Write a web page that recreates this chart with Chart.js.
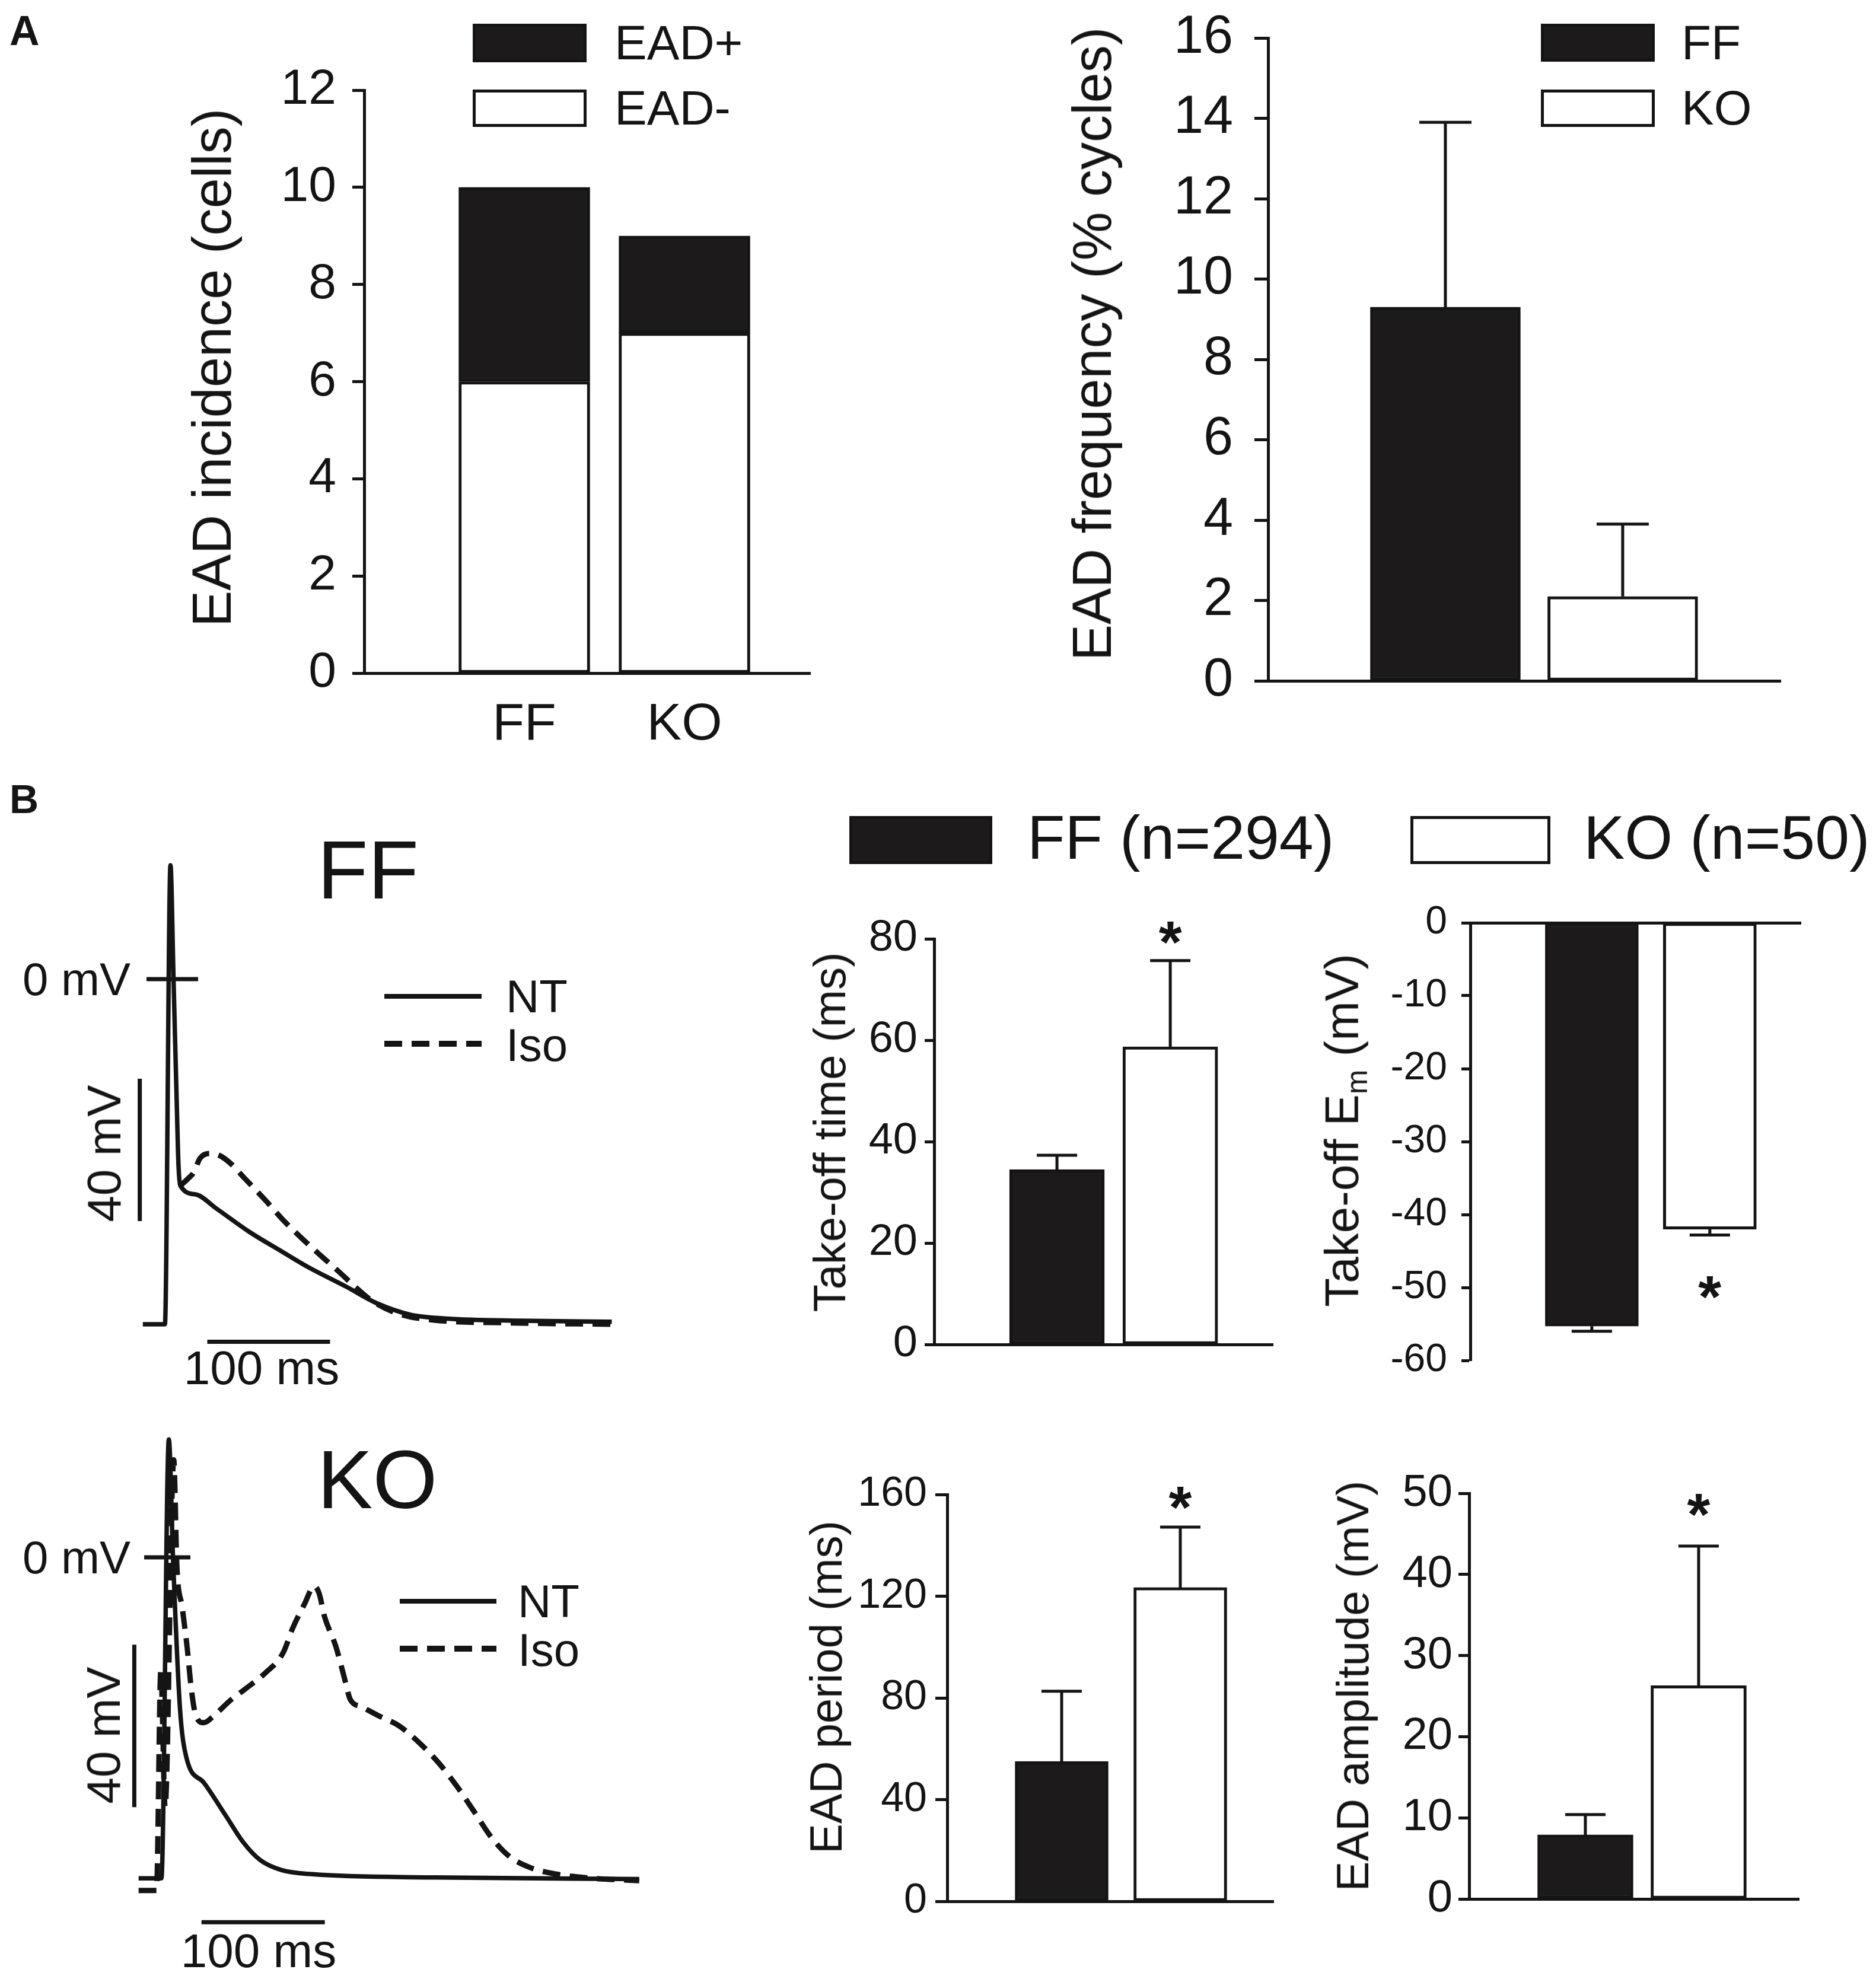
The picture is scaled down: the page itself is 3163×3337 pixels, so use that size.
<!DOCTYPE html>
<html lang="en">
<head>
<meta charset="utf-8">
<title>EAD incidence, frequency and take-off properties</title>
<script src="https://cdn.jsdelivr.net/npm/chart.js@4.4.1/dist/chart.umd.min.js"></script>
<style>
  html, body { margin: 0; padding: 0; background: #fff; }
  body { position: relative; width: 3163px; height: 3337px; overflow: hidden;
         font-family: "Liberation Sans", Arial, Helvetica, sans-serif; color: #141414; }
  canvas { position: absolute; }
  .t { position: absolute; white-space: nowrap; line-height: 1; }
  .sw { position: absolute; box-sizing: border-box; border: 5px solid #141414; }
  .ln { position: absolute; background: #141414; }
  .dash { position: absolute; background: repeating-linear-gradient(to right, #141414 0 30px, transparent 30px 46px); }
  sub { font-size: 0.62em; vertical-align: -0.3em; }
</style>
</head>
<body>
<script>
// ---------- data ----------
const groups = ["FF", "KO"];

// A: incidence (cells), stacked
const incidenceTicks = [0, 2, 4, 6, 8, 10, 12];
const eadNegCells = [6, 7];
const eadPosCells = [4, 2];

// A: EAD frequency (% cycles), mean + SEM
const frequencyTicks = [0, 2, 4, 6, 8, 10, 12, 14, 16];
const frequencyMean = [9.3, 2.1];
const frequencySem = [4.6, 1.8];

// B: bar summaries, mean + SEM
const takeoffTimeTicks = [0, 20, 40, 60, 80];
const takeoffTimeMean = [34.5, 58.7];
const takeoffTimeSem = [2.8, 17.0];

const takeoffEmTicks = [-60, -50, -40, -30, -20, -10, 0];
const takeoffEmMean = [-55.3, -42.0];
const takeoffEmSem = [0.7, 0.8];

const periodTicks = [0, 40, 80, 120, 160];
const periodMean = [55.0, 123.4];
const periodSem = [27.6, 23.8];

const amplitudeTicks = [0, 10, 20, 30, 40, 50];
const amplitudeMean = [7.9, 26.3];
const amplitudeSem = [2.5, 17.2];

const significant = [false, true];

// B: action potentials, [time (ms), Em (mV)]
const ffNT = [[-18, -97], [0, -97], [4.5, 32], [7, 0], [10, -40], [11, -52], [12.5, -58],
  [25, -60.5], [42, -64.5], [68.6, -71], [95, -76.5], [117, -81], [148, -86.5], [172, -91],
  [200, -94.3], [230, -95.4], [290, -96], [364, -96.3]];
const ffIso = [[12.5, -58], [14, -57.6], [19, -56], [23.5, -54.3], [28.5, -50.4], [36, -49],
  [44, -49.5], [52.5, -51.5], [65, -56], [81.5, -62], [96, -67.6], [112, -73], [126.6, -77.6],
  [141, -82], [155, -86.5], [169, -90.5], [190, -94], [218, -95.8], [280, -96.6], [364, -97]];
const koNT = [[-21, -79], [-2.5, -79], [3.5, 29], [7, -1], [12.5, -37], [17.5, -49], [32, -55.5],
  [49.5, -63.5], [63.5, -70], [77.5, -74.5], [95, -77], [120, -78], [219, -78.8], [385, -79.2]];
const koIso = [[-21, -82], [-6.5, -82], [-3, -28], [0.5, -61.5], [7.5, 24], [10, -2],
  [14.4, -12.4], [18.3, -22], [21.6, -32], [25, -38.5], [31.8, -40.7], [40, -39], [53, -35.3],
  [65.5, -32.4], [81.6, -28.5], [96, -23.6], [104, -17.4], [113.5, -11.5], [121.4, -7.1],
  [125.5, -9], [129.6, -14.4], [139, -22], [147, -31], [150.5, -34.9], [160, -36.8],
  [173, -38.9], [190.8, -41.6], [208.5, -46.2], [222.6, -50.7], [236.7, -56.2],
  [250.9, -62.5], [265, -68.9], [279.2, -73.5], [296.8, -76.4], [318, -78], [342.8, -78.9],
  [385, -79.6]];

const scaleBarMv = 40;
const scaleBarMs = 100;

// ---------- drawing ----------
const INK = "#141414";
const DARK = "#1c1a1b";
const SANS = '"Liberation Sans", Arial, sans-serif';

Chart.defaults.font.family = SANS;
Chart.defaults.color = INK;
Chart.defaults.animation = false;
Chart.defaults.plugins.legend.display = false;
Chart.defaults.plugins.tooltip.enabled = false;

function canvasAt(left, top, width, height) {
  const c = document.createElement("canvas");
  c.width = Math.round(width);
  c.height = Math.round(height);
  c.style.left = Math.round(left) + "px";
  c.style.top = Math.round(top) + "px";
  c.style.width = c.width + "px";
  c.style.height = c.height + "px";
  document.body.appendChild(c);
  return c.getContext("2d");
}

function label(html, x, y, size, o = {}) {
  const el = document.createElement("div");
  el.className = "t";
  el.innerHTML = html;
  el.style.left = x + "px";
  el.style.top = y + "px";
  el.style.fontSize = size + "px";
  if (o.bold) el.style.fontWeight = "bold";
  const ax = o.anchor === "start" ? "0" : o.anchor === "end" ? "-100%" : "-50%";
  el.style.transform = `translate(${ax}, -50%)` + (o.rotate ? " rotate(-90deg)" : "");
  document.body.appendChild(el);
}

function swatch(x, y, w, h, fill) {
  const el = document.createElement("div");
  el.className = "sw";
  Object.assign(el.style, { left: x + "px", top: y + "px", width: w + "px", height: h + "px", background: fill });
  document.body.appendChild(el);
}

function legendLine(x1, x2, y, dashed) {
  const el = document.createElement("div");
  const h = dashed ? 10 : 8;
  el.className = dashed ? "dash" : "ln";
  Object.assign(el.style, { left: x1 + "px", top: (y - h / 2) + "px", width: (x2 - x1) + "px", height: h + "px" });
  document.body.appendChild(el);
}

// mean + SEM whiskers and significance stars
const errorBars = {
  id: "errorBars",
  afterDatasetsDraw(chart, _args, o) {
    if (!o || !o.sem) return;
    const { ctx } = chart;
    const y = chart.scales.y;
    const bars = chart.getDatasetMeta(0).data;
    const values = chart.data.datasets[0].data;
    ctx.save();
    ctx.strokeStyle = INK;
    ctx.fillStyle = INK;
    ctx.lineWidth = 5;
    bars.forEach((bar, i) => {
      const v = values[i].y;
      const dir = v < 0 ? -1 : 1;
      const y0 = y.getPixelForValue(v);
      const y1 = y.getPixelForValue(v + dir * o.sem[i]);
      ctx.beginPath();
      ctx.moveTo(bar.x, y0);
      ctx.lineTo(bar.x, y1);
      ctx.moveTo(bar.x - o.cap / 2, y1);
      ctx.lineTo(bar.x + o.cap / 2, y1);
      ctx.stroke();
      if (o.marks && o.marks[i]) {
        const cy = y1 - dir * o.markGap;
        ctx.font = `bold ${o.markSize}px ${SANS}`;
        ctx.textAlign = "center";
        ctx.textBaseline = "alphabetic";
        ctx.fillText("*", bar.x, cy + 0.58 * o.markSize);
      }
    });
    ctx.restore();
  }
};

function meanBars(values, thickness) {
  return [{
    data: values.map((v, i) => ({ x: i + 1, y: v })),
    backgroundColor: [DARK, "#fff"],
    borderColor: INK,
    borderWidth: 5,
    borderSkipped: false,
    barThickness: thickness
  }];
}

// p.axis/top/bottom/right give the pixel frame of the plot area
function barPanel(p) {
  const yW = 260, padT = p.padT ?? 110, padB = p.padB ?? 80, padR = 10, xH = p.xH ?? 0;
  const left = p.axis - yW;
  const top = p.top - padT;
  const width = p.right - left + padR;
  const height = p.bottom - top + xH + padB;
  const ticks = p.ticks;
  new Chart(canvasAt(left, top, width, height), {
    type: "bar",
    data: { datasets: p.datasets },
    options: {
      responsive: false,
      devicePixelRatio: 1,
      layout: { padding: { left: 0, top: padT, right: padR, bottom: padB } },
      scales: {
        x: {
          type: "linear",
          position: p.down ? "top" : "bottom",
          offset: false,
          min: p.xMin, max: p.xMax,
          stacked: true,
          afterFit: s => { s.height = xH; },
          afterBuildTicks: s => { s.ticks = groups.map((g, i) => ({ value: i + 1 })); },
          grid: { display: false, offset: false },
          border: { display: true, color: INK, width: 5 },
          ticks: {
            display: !!p.xFont,
            font: { size: p.xFont || 10 },
            padding: p.xPad || 0,
            color: INK,
            callback: v => groups[v - 1]
          }
        },
        y: {
          type: "linear",
          min: ticks[0], max: ticks[ticks.length - 1],
          stacked: true,
          afterFit: s => { s.width = yW; },
          afterBuildTicks: s => { s.ticks = ticks.map(v => ({ value: v })); },
          grid: { drawOnChartArea: false, tickLength: p.tickLen, tickWidth: 5, tickColor: INK },
          border: { display: true, color: INK, width: 5 },
          ticks: { font: p.yFont, padding: p.yPad, color: INK }
        }
      },
      plugins: { errorBars: p.err || false }
    },
    plugins: [errorBars]
  });
}

function tracePanel(p) {
  const left = p.t0 + p.tMin * p.ms;
  const top = p.zero - p.vMax * p.mv;
  const width = (p.tMax - p.tMin) * p.ms;
  const height = (p.vMax - p.vMin) * p.mv;
  const pts = arr => arr.map(([t, v]) => ({ x: t, y: v }));
  const trace = (data, dashed) => ({
    data: pts(data),
    borderColor: INK,
    borderWidth: dashed ? 9 : 7.5,
    borderDash: dashed ? [30, 16] : [],
    cubicInterpolationMode: "monotone",
    pointRadius: 0,
    clip: false
  });
  const bar = data => ({ data, borderColor: INK, borderWidth: 7, pointRadius: 0, tension: 0, clip: false });
  const s = p.bars;
  new Chart(canvasAt(left, top, width, height), {
    type: "line",
    data: {
      datasets: [
        trace(p.iso, true),
        trace(p.nt, false),
        bar([{ x: s.zeroFrom, y: 0 }, { x: s.zeroTo, y: 0 }]),
        bar([{ x: s.mvAt, y: s.mvTop }, { x: s.mvAt, y: s.mvTop - scaleBarMv }]),
        bar([{ x: s.msFrom, y: s.msAt }, { x: s.msFrom + scaleBarMs, y: s.msAt }])
      ]
    },
    options: {
      responsive: false,
      devicePixelRatio: 1,
      layout: { padding: 0 },
      scales: {
        x: { type: "linear", display: false, min: p.tMin, max: p.tMax },
        y: { type: "linear", display: false, min: p.vMin, max: p.vMax }
      }
    }
  });
}

// ---------- panel A ----------
label("A", 16, 52, 70, { anchor: "start", bold: true });

barPanel({
  axis: 614, top: 152, bottom: 1135, right: 1366,
  ticks: incidenceTicks, xMin: 0, xMax: 2.785,
  tickLen: 20, yFont: { size: 84 }, yPad: 27,
  xFont: 88, xPad: 27, xH: 130, padB: 0,
  datasets: [
    { label: "EAD-", data: eadNegCells.map((v, i) => ({ x: i + 1, y: v })), backgroundColor: "#fff",
      borderColor: INK, borderWidth: 5, borderSkipped: false, barThickness: 221 },
    { label: "EAD+", data: eadPosCells.map((v, i) => ({ x: i + 1, y: v })), backgroundColor: DARK,
      borderColor: INK, borderWidth: 5, borderSkipped: false, barThickness: 221 }
  ]
});
label("EAD incidence (cells)", 357, 620, 92, { rotate: true });
swatch(797, 40, 192, 65, DARK);
swatch(797, 151, 192, 63, "#fff");
label("EAD+", 1036, 72, 82, { anchor: "start" });
label("EAD-", 1036, 182, 82, { anchor: "start" });

barPanel({
  axis: 2138, top: 64, bottom: 1158, right: 3002,
  ticks: frequencyTicks, xMin: 0, xMax: 2.89,
  tickLen: 23, yFont: { size: 90 }, yPad: 36,
  datasets: meanBars(frequencyMean, 253),
  err: { sem: frequencySem, cap: 88 }
});
label("EAD frequency (% cycles)", 1841, 580, 92, { rotate: true });
swatch(2598, 40, 192, 64, DARK);
swatch(2598, 151, 192, 63, "#fff");
label("FF", 2835, 72, 82, { anchor: "start" });
label("KO", 2835, 182, 82, { anchor: "start" });

// ---------- panel B ----------
label("B", 16, 1347, 68, { anchor: "start", bold: true });

swatch(1432, 1376, 241, 81, DARK);
label("FF (n=294)", 1732, 1412, 104, { anchor: "start" });
swatch(2378, 1376, 236, 81, "#fff");
label("KO (n=50)", 2670, 1412, 104, { anchor: "start" });

// FF action potentials
tracePanel({
  t0: 278, zero: 1651, ms: 2.07, mv: 6.0, tMin: -30, tMax: 400, vMin: -110, vMax: 40,
  nt: ffNT, iso: ffIso,
  bars: { zeroFrom: -15, zeroTo: 27, mvAt: -20.5, mvTop: -28, msFrom: 34.5, msAt: -101.9 }
});
label("FF", 535, 1467, 140, { anchor: "start" });
label("0 mV", 220, 1651, 78, { anchor: "end" });
label("40 mV", 176, 1945, 80, { rotate: true });
label("100 ms", 441, 2307, 80);
legendLine(648, 812, 1680, false);
legendLine(648, 812, 1760, true);
label("NT", 853, 1680, 78, { anchor: "start" });
label("Iso", 853, 1762, 78, { anchor: "start" });

// KO action potentials
tracePanel({
  t0: 277, zero: 2626, ms: 2.08, mv: 6.85, tMin: -30, tMax: 400, vMin: -100, vMax: 40,
  nt: koNT, iso: koIso,
  bars: { zeroFrom: -16.5, zeroTo: 21, mvAt: -24.5, mvTop: -21.5, msFrom: 30, msAt: -89.8 }
});
label("KO", 535, 2495, 140, { anchor: "start" });
label("0 mV", 220, 2626, 78, { anchor: "end" });
label("40 mV", 175, 2926, 80, { rotate: true });
label("100 ms", 436, 3290, 80);
legendLine(674, 837, 2700, false);
legendLine(674, 837, 2780, true);
label("NT", 873, 2700, 78, { anchor: "start" });
label("Iso", 873, 2782, 78, { anchor: "start" });

// summaries
barPanel({
  axis: 1575, top: 1583, bottom: 2267, right: 2146,
  ticks: takeoffTimeTicks, xMin: -0.084, xMax: 2.905,
  tickLen: 16, yFont: { size: 74 }, yPad: 12,
  datasets: meanBars(takeoffTimeMean, 160),
  err: { sem: takeoffTimeSem, cap: 68, marks: significant, markGap: 55, markSize: 100 }
});
label("Take-off time (ms)", 1399, 1909, 76, { rotate: true });

barPanel({
  axis: 2479, top: 1556, bottom: 2294, right: 3036, down: true,
  ticks: takeoffEmTicks, xMin: -0.03, xMax: 2.77,
  tickLen: 15, yFont: { size: 66 }, yPad: 24,
  datasets: meanBars(takeoffEmMean, 157),
  err: { sem: takeoffEmSem, cap: 68, marks: significant, markGap: 81, markSize: 100 }
});
label("Take-off E<sub>m</sub> (mV)", 2268, 1906, 80, { rotate: true });

barPanel({
  axis: 1597, top: 2520, bottom: 3206, right: 2147,
  ticks: periodTicks, xMin: 0.035, xMax: 2.785,
  tickLen: 20, yFont: { size: 70 }, yPad: 14,
  datasets: meanBars(periodMean, 157),
  err: { sem: periodSem, cap: 68, marks: significant, markGap: 57, markSize: 100 }
});
label("EAD period (ms)", 1393, 2845, 76, { rotate: true });

barPanel({
  axis: 2477, top: 2518, bottom: 3202, right: 3033,
  ticks: amplitudeTicks, xMin: -0.026, xMax: 2.885,
  tickLen: 18, yFont: { size: 76 }, yPad: 10,
  datasets: meanBars(amplitudeMean, 161),
  err: { sem: amplitudeSem, cap: 68, marks: significant, markGap: 77, markSize: 100 }
});
label("EAD amplitude (mV)", 2281, 2843, 76, { rotate: true });
</script>
</body>
</html>
